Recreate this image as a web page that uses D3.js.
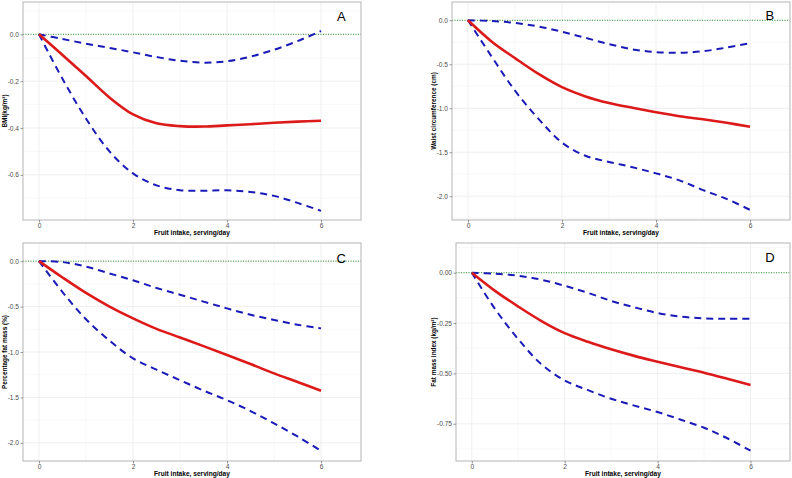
<!DOCTYPE html>
<html>
<head>
<meta charset="utf-8">
<script src="https://cdn.jsdelivr.net/npm/d3@7"></script>
<style>
  html, body { margin: 0; padding: 0; background: #fff; }
  svg { display: block; font-family: "Liberation Sans", Arial, sans-serif; }
</style>
</head>
<body>
<svg id="chart" width="792" height="478"></svg>
<script>
// ---- data ----
const xValues = [0, 0.5, 1, 1.5, 2, 2.5, 3, 3.5, 4, 4.5, 5, 5.5, 6];
const xTicks = [0, 2, 4, 6];
const xTitle = "Fruit intake, serving/day";

const panelLabels = ["A", "B", "C", "D"];
const yTitles = ["BMI(kg/m²)", "Waist circumference (cm)", "Percentage fat mass (%)", "Fat mass index (kg/m²)"];

const bmiFit   = [0, -0.088, -0.178, -0.27, -0.342, -0.38, -0.392, -0.394, -0.389, -0.384, -0.378, -0.373, -0.369];
const bmiUpper = [0, -0.020, -0.040, -0.058, -0.077, -0.097, -0.113, -0.121, -0.115, -0.095, -0.066, -0.029, 0.014];
const bmiLower = [0, -0.19, -0.36, -0.50, -0.594, -0.645, -0.666, -0.668, -0.666, -0.673, -0.69, -0.72, -0.754];

const waistFit   = [0, -0.24, -0.43, -0.61, -0.76, -0.865, -0.94, -0.995, -1.045, -1.09, -1.125, -1.165, -1.21];
const waistUpper = [0, -0.008, -0.03, -0.07, -0.13, -0.2, -0.27, -0.33, -0.362, -0.368, -0.352, -0.31, -0.26];
const waistLower = [0, -0.41, -0.80, -1.12, -1.39, -1.54, -1.61, -1.67, -1.74, -1.82, -1.93, -2.03, -2.155];

const pfmFit   = [0, -0.18, -0.35, -0.50, -0.63, -0.745, -0.84, -0.935, -1.033, -1.133, -1.235, -1.33, -1.427];
const pfmUpper = [0, -0.01, -0.06, -0.135, -0.21, -0.295, -0.37, -0.445, -0.52, -0.59, -0.647, -0.70, -0.74];
const pfmLower = [0, -0.34, -0.64, -0.875, -1.07, -1.195, -1.31, -1.425, -1.53, -1.65, -1.786, -1.93, -2.088];

const fmiFit   = [0, -0.09, -0.168, -0.24, -0.3, -0.343, -0.38, -0.413, -0.442, -0.47, -0.497, -0.527, -0.558];
const fmiUpper = [0, -0.005, -0.015, -0.035, -0.065, -0.10, -0.14, -0.172, -0.20, -0.218, -0.227, -0.229, -0.228];
const fmiLower = [0, -0.18, -0.33, -0.455, -0.535, -0.583, -0.626, -0.66, -0.692, -0.73, -0.77, -0.822, -0.884];

const yTicksA = [0, -0.2, -0.4, -0.6];
const yTicksB = [0, -0.5, -1.0, -1.5, -2.0];
const yTicksC = [0, -0.5, -1.0, -1.5, -2.0];
const yTicksD = [0, -0.25, -0.5, -0.75];
const yTickLabelsA = ["0.0", "-0.2", "-0.4", "-0.6"];
const yTickLabelsB = ["0.0", "-0.5", "-1.0", "-1.5", "-2.0"];
const yTickLabelsC = ["0.0", "-0.5", "-1.0", "-1.5", "-2.0"];
const yTickLabelsD = ["0.00", "-0.25", "-0.50", "-0.75"];

// ---- layout ----
const xDomain = [-0.34, 6.85];
const labelPos = [[6.43, 0.078], [6.42, 0.05], [6.43, 0.033], [6.42, 0.077]];
const panels = [
  { fit: bmiFit,   up: bmiUpper,   lo: bmiLower,   ticks: yTicksA, tl: yTickLabelsA, yd: [-0.793, 0.138], box: [23, 2, 361, 220],   ytx: 4.5 },
  { fit: waistFit, up: waistUpper, lo: waistLower, ticks: yTicksB, tl: yTickLabelsB, yd: [-2.27, 0.208],  box: [452, 2, 790, 220],  ytx: 433 },
  { fit: pfmFit,   up: pfmUpper,   lo: pfmLower,   ticks: yTicksC, tl: yTickLabelsC, yd: [-2.20, 0.20],   box: [23, 243, 361, 461], ytx: 4.5 },
  { fit: fmiFit,   up: fmiUpper,   lo: fmiLower,   ticks: yTicksD, tl: yTickLabelsD, yd: [-0.935, 0.1475], box: [456, 243, 790, 461], ytx: 433 }
];

const svg = d3.select("#chart");

panels.forEach((p, i) => {
  const [x0, y0, x1, y1] = p.box;
  const x = d3.scaleLinear().domain(xDomain).range([x0, x1]);
  const y = d3.scaleLinear().domain(p.yd).range([y1, y0]);
  const g = svg.append("g");

  // minor grid
  const step = p.ticks[0] - p.ticks[1];
  const minorY = [];
  for (let v = p.ticks[0] + step / 2; v >= p.yd[0]; v -= step) if (v <= p.yd[1]) minorY.push(v);
  const minorX = [1, 3, 5];
  g.selectAll(".mgy").data(minorY).join("line")
    .attr("x1", x0).attr("x2", x1).attr("y1", d => y(d)).attr("y2", d => y(d))
    .attr("stroke", "#f4f4f4").attr("stroke-width", 0.6);
  g.selectAll(".mgx").data(minorX).join("line")
    .attr("y1", y0).attr("y2", y1).attr("x1", d => x(d)).attr("x2", d => x(d))
    .attr("stroke", "#f4f4f4").attr("stroke-width", 0.6);
  // major grid
  g.selectAll(".gy").data(p.ticks).join("line")
    .attr("x1", x0).attr("x2", x1).attr("y1", d => y(d)).attr("y2", d => y(d))
    .attr("stroke", "#ebebeb").attr("stroke-width", 0.8);
  g.selectAll(".gx").data(xTicks).join("line")
    .attr("y1", y0).attr("y2", y1).attr("x1", d => x(d)).attr("x2", d => x(d))
    .attr("stroke", "#ebebeb").attr("stroke-width", 0.8);

  // reference line at 0
  g.append("line")
    .attr("x1", x0).attr("x2", x1).attr("y1", y(0)).attr("y2", y(0))
    .attr("stroke", "#2e9a2e").attr("stroke-width", 1).attr("stroke-dasharray", "1,1.5");

  const line = d3.line().x((d, k) => x(xValues[k])).y(d => y(d)).curve(d3.curveCatmullRom.alpha(0.5));
  g.append("path").attr("d", line(p.up)).attr("fill", "none")
    .attr("stroke", "#1a1ab8").attr("stroke-width", 2).attr("stroke-dasharray", "7,5");
  g.append("path").attr("d", line(p.lo)).attr("fill", "none")
    .attr("stroke", "#1a1ab8").attr("stroke-width", 2).attr("stroke-dasharray", "7,5");
  g.append("path").attr("d", line(p.fit)).attr("fill", "none")
    .attr("stroke", "#dd1a1a").attr("stroke-width", 2.6);

  // panel border
  g.append("rect").attr("x", x0).attr("y", y0).attr("width", x1 - x0).attr("height", y1 - y0)
    .attr("fill", "none").attr("stroke", "#b5b5b5").attr("stroke-width", 1);

  // axes
  const yAxis = d3.axisLeft(y).tickValues(p.ticks).tickFormat((d, k) => p.tl[k]).tickSize(2.5).tickPadding(1.5);
  const ya = g.append("g").attr("transform", `translate(${x0},0)`).call(yAxis);
  const xAxis = d3.axisBottom(x).tickValues(xTicks).tickFormat(d3.format("d")).tickSize(2.5).tickPadding(1);
  const xa = g.append("g").attr("transform", `translate(0,${y1})`).call(xAxis);
  [ya, xa].forEach(a => {
    a.select(".domain").remove();
    a.selectAll(".tick line").attr("stroke", "#555").attr("stroke-width", 0.6);
    a.selectAll(".tick text").attr("fill", "#4d4d4d").attr("font-size", 6.6)
      .attr("font-family", "Liberation Sans, Arial, sans-serif");
  });

  // axis titles
  g.append("text").attr("x", (x0 + x1) / 2).attr("y", y1 + 15)
    .attr("text-anchor", "middle").attr("font-size", 6.6).attr("font-weight", "bold")
    .text(xTitle);
  g.append("text").attr("transform", `translate(${p.ytx},${(y0 + y1) / 2}) rotate(-90)`)
    .attr("text-anchor", "middle").attr("dominant-baseline", "central")
    .attr("font-size", 6.4).attr("font-weight", "bold").text(yTitles[i]);

  // panel label
  g.append("text").attr("x", x(labelPos[i][0])).attr("y", y(labelPos[i][1]))
    .attr("text-anchor", "middle").attr("dominant-baseline", "central")
    .attr("font-size", 13).attr("fill", "#000").text(panelLabels[i]);
});
</script>
</body>
</html>
